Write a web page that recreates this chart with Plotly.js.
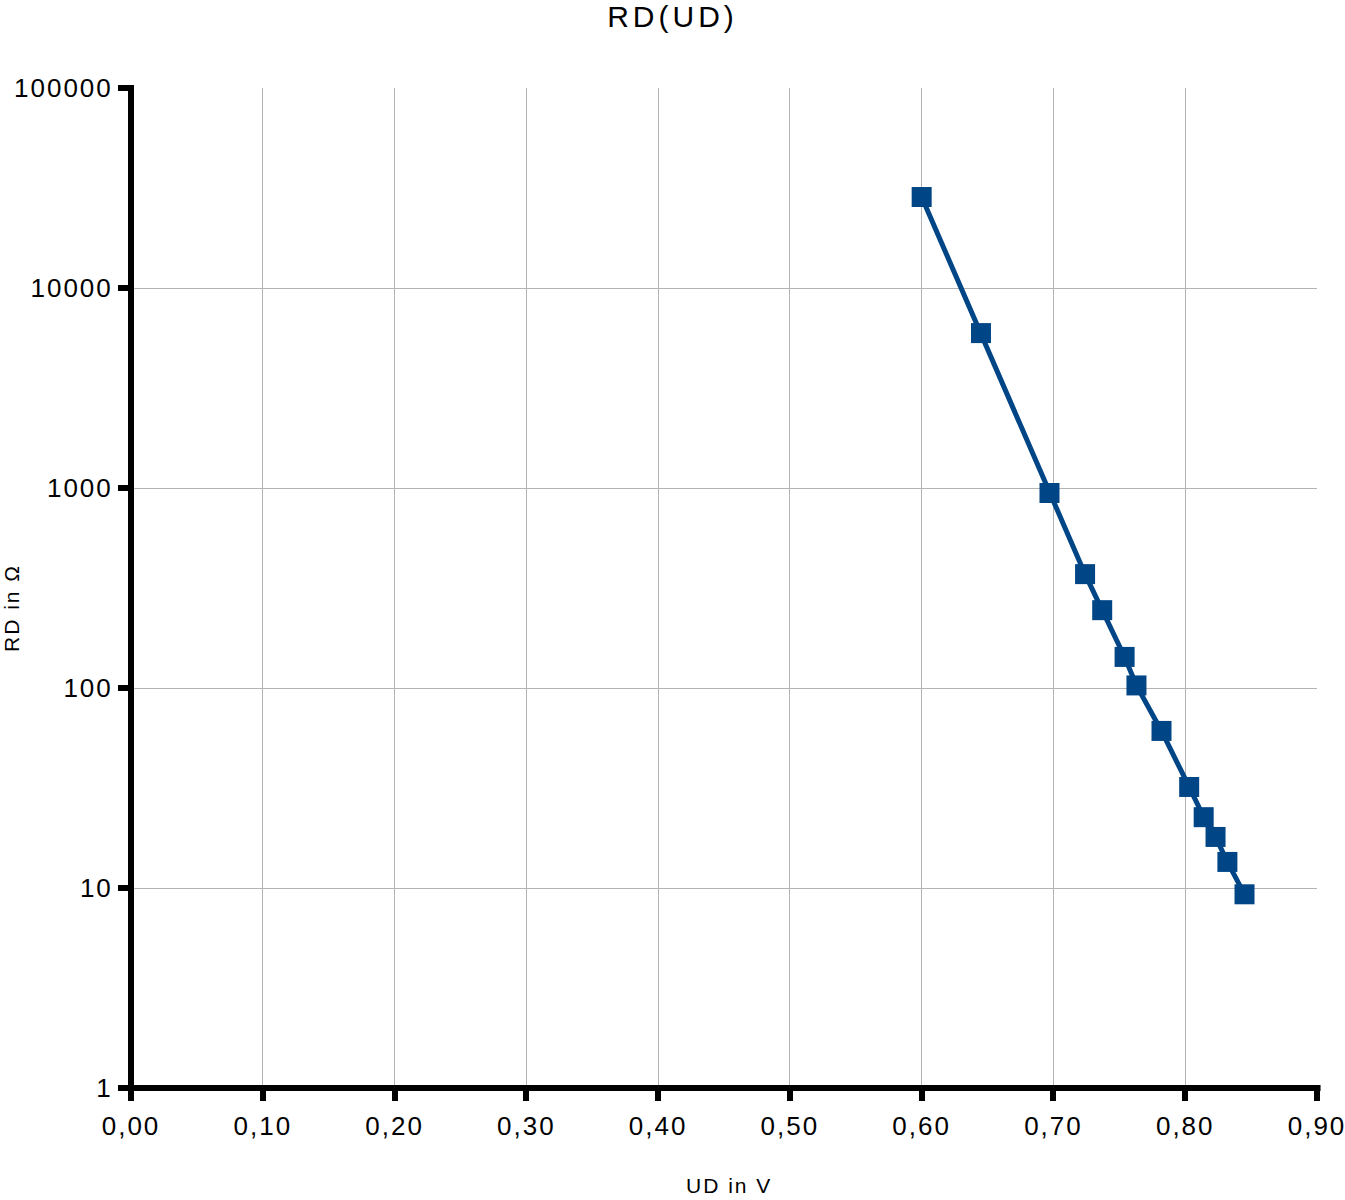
<!DOCTYPE html>
<html>
<head>
<meta charset="utf-8">
<script src="https://cdn.plot.ly/plotly-3.0.1.min.js"></script>
<style>
html,body{margin:0;padding:0;background:#fff;}
#chart{width:1345px;height:1200px;}
.gtitle{letter-spacing:4px;}
.xtick text,.ytick text{letter-spacing:2px;}
.g-xtitle text,.annotation-text{letter-spacing:2px;}
</style>
</head>
<body>
<div id="chart"></div>
<script>
const ud = [0.600, 0.645, 0.697, 0.724, 0.737, 0.754, 0.763, 0.782, 0.803, 0.814, 0.823, 0.832, 0.845];
const rd = [28500, 5950, 944, 371, 245, 143, 103, 61, 32, 22.6, 18, 13.5, 9.3];
const xTickVals = [0, 0.1, 0.2, 0.3, 0.4, 0.5, 0.6, 0.7, 0.8, 0.9];
const xTickText = ["0,00","0,10","0,20","0,30","0,40","0,50","0,60","0,70","0,80","0,90"];
const yTickVals = [1, 10, 100, 1000, 10000, 100000];
const yTickText = ["1","10","100","1000","10000","100000"];

const font = "Liberation Sans, Arial, sans-serif";
Plotly.newPlot('chart', [{
  x: ud, y: rd, type: 'scatter', mode: 'lines+markers',
  line: {color: '#004586', width: 5},
  marker: {symbol: 'square', size: 20, color: '#004586'},
  cliponaxis: false
}], {
  width: 1345, height: 1200,
  margin: {l: 131, r: 28, t: 88, b: 112},
  paper_bgcolor: '#fff', plot_bgcolor: '#fff',
  showlegend: false,
  font: {family: font, color: '#000'},
  title: {text: 'RD(UD)', font: {size: 30, family: font, color: '#000'}, x: 0.5, xanchor: 'center', y: 0.995, yanchor: 'top'},
  xaxis: {
    range: [0, 0.9], tickvals: xTickVals, ticktext: xTickText,
    showgrid: true, gridcolor: '#b3b3b3', gridwidth: 1,
    showline: false, ticklabeloverflow: 'allow', ticklabelstandoff: 3,
    ticks: 'outside', ticklen: 12, tickwidth: 6, tickcolor: '#000',
    tickfont: {size: 26, family: font, color: '#000'},
    zeroline: false
  },
  yaxis: {
    type: 'log', range: [0, 5], tickvals: yTickVals, ticktext: yTickText,
    showgrid: true, gridcolor: '#b3b3b3', gridwidth: 1,
    showline: false, ticklabeloverflow: 'allow',
    ticks: 'outside', ticklen: 12, tickwidth: 6, tickcolor: '#000',
    tickfont: {size: 26, family: font, color: '#000'},
    zeroline: false
  },
  annotations: [{
    text: 'RD in Ω', textangle: -90, showarrow: false,
    xref: 'paper', yref: 'paper', x: -0.1012, y: 0.48, xanchor: 'center', yanchor: 'middle',
    font: {size: 21, family: font, color: '#000'}
  }, {
    text: 'UD in V', showarrow: false,
    xref: 'paper', yref: 'paper', x: 0.504, y: -0.097, xanchor: 'center', yanchor: 'middle',
    font: {size: 21, family: font, color: '#000'}
  }],
  shapes: [
    {type: 'line', xref: 'paper', yref: 'paper', x0: 0, x1: 0, y0: 0, y1: 1.003, line: {color: '#000', width: 6}, layer: 'above'},
    {type: 'line', xref: 'paper', yref: 'paper', x0: -0.003, x1: 1.003, y0: 0, y1: 0, line: {color: '#000', width: 6}, layer: 'above'}
  ]
}, {displayModeBar: false, staticPlot: true});
</script>
</body>
</html>
